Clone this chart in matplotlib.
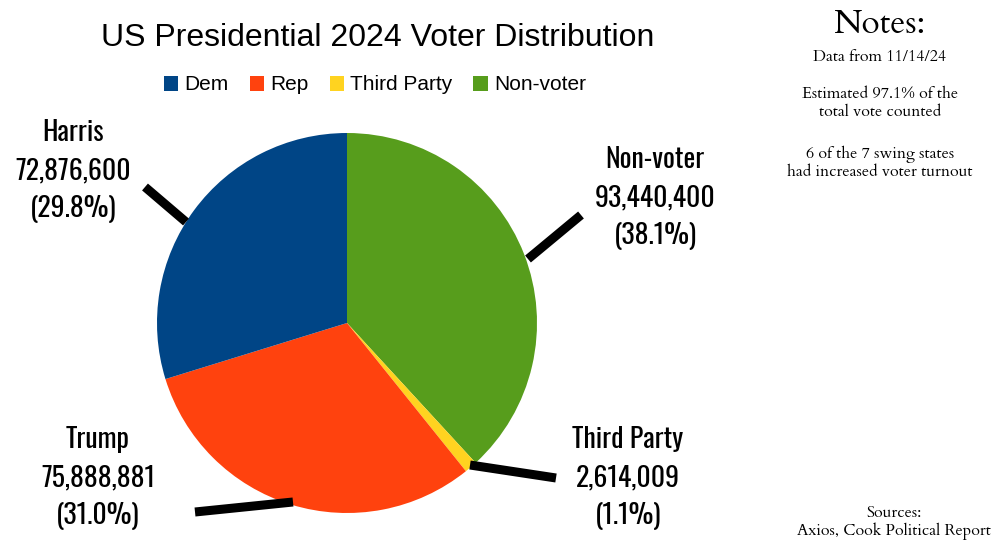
import matplotlib.pyplot as plt
import numpy as np

# data (clockwise from top)
labels = ["Non-voter", "Third Party", "Rep", "Dem"]
names = ["Non-voter", "Third Party", "Trump", "Harris"]
votes = [93440400, 2614009, 75888881, 72876600]
pcts = ["38.1%", "1.1%", "31.0%", "29.8%"]
colors = ["#579d1c", "#ffd320", "#ff420e", "#004586"]

legend_order = ["Dem", "Rep", "Third Party", "Non-voter"]

fig = plt.figure(figsize=(10, 5.45), dpi=100)

ax = fig.add_axes([0.157, 32 / 545, 0.38, 380 / 545])
wedges, _ = ax.pie(votes, colors=colors, startangle=90, counterclock=False,
                   radius=1, wedgeprops=dict(linewidth=0))
ax.set_xlim(-1, 1)
ax.set_ylim(-1, 1)
ax.set_aspect("auto")
ax.axis("off")

fig.text(0.378, 1 - 38 / 545, "US Presidential 2024 Voter Distribution", ha="center",
         va="center", fontsize=23, family=["Liberation Sans", "DejaVu Sans"])

by_label = dict(zip(labels, wedges))
fig.legend([by_label[k] for k in legend_order], legend_order,
           loc="center", bbox_to_anchor=(0.375, 1 - 85 / 545), ncol=4,
           frameon=False, handlelength=0.7, handleheight=0.7,
           handletextpad=0.3, columnspacing=1.0,
           prop=dict(family=["Liberation Sans", "DejaVu Sans"], size=15))

# leader lines in pixel coordinates of the figure
lines = {
    "Harris": [(145, 187), (186, 222)],
    "Non-voter": [(581, 215), (528, 259)],
    "Third Party": [(470, 465), (556, 478)],
    "Trump": [(195, 512), (293, 502)],
}
label_pos = {
    "Harris": (73, 171),
    "Non-voter": (655, 198),
    "Third Party": (628, 478),
    "Trump": (98, 478),
}
for n, v, p in zip(names, votes, pcts):
    (x0, y0), (x1, y1) = lines[n]
    fig.add_artist(plt.Line2D([x0 / 1000, x1 / 1000], [1 - y0 / 545, 1 - y1 / 545],
                              color="black", linewidth=6.5, solid_capstyle="butt"))
    lx, ly = label_pos[n]
    fig.text(lx / 1000, 1 - ly / 545, f"{n}\n{v:,}\n({p})", ha="center", va="center",
             fontsize=20, family=["Oswald", "DejaVu Sans"], linespacing=1.48)

serif = ["Cardo", "Liberation Serif", "DejaVu Serif"]
fig.text(0.88, 1 - 25 / 545, "Notes:", ha="center", va="center", fontsize=24, family=serif)
fig.text(0.88, 1 - 57 / 545, "Data from 11/14/24", ha="center", va="center", fontsize=11.5, family=serif)
fig.text(0.88, 1 - 103 / 545, "Estimated 97.1% of the\ntotal vote counted", ha="center",
         va="center", fontsize=11.5, family=serif, linespacing=1.0)
fig.text(0.88, 1 - 163 / 545, "6 of the 7 swing states\nhad increased voter turnout", ha="center",
         va="center", fontsize=11.5, family=serif, linespacing=1.0)
fig.text(0.894, 1 - 522 / 545, "Sources:\nAxios, Cook Political Report", ha="center",
         va="center", fontsize=11.5, family=serif, linespacing=1.05)

fig.savefig("out.png", dpi=100)
